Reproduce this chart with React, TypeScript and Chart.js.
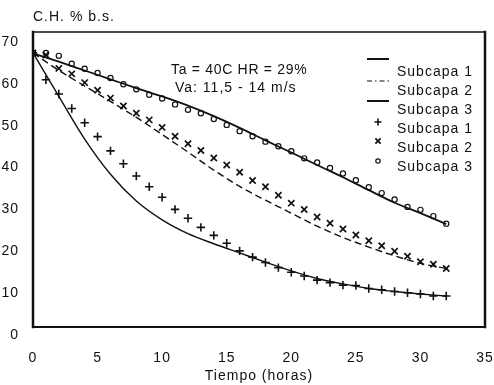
import React, { useEffect, useRef } from 'react';
import { Chart, registerables } from 'chart.js';

Chart.register(...registerables);

// ---- data ----
const hours = [0, 1, 2, 3, 4, 5, 6, 7, 8, 9, 10, 11, 12, 13, 14, 15, 16, 17, 18, 19, 20, 21, 22, 23, 24, 25, 26, 27, 28, 29, 30, 31, 32];
const subcapa1Measured = [67.4, 61.0, 57.6, 54.1, 50.7, 47.4, 44.0, 40.9, 38.0, 35.4, 32.9, 30.0, 27.9, 25.7, 23.8, 21.9, 20.1, 18.6, 17.3, 16.1, 15.0, 14.1, 13.1, 12.5, 11.9, 11.8, 11.1, 10.8, 10.4, 10.1, 9.8, 9.3, 9.3];
const subcapa2Measured = [67.4, 66.9, 63.7, 62.4, 60.3, 58.5, 56.6, 54.7, 53.0, 51.4, 49.6, 47.5, 45.7, 44.1, 42.3, 40.6, 38.9, 36.9, 35.4, 33.4, 31.5, 30.0, 28.2, 26.7, 25.3, 23.9, 22.5, 21.3, 20.0, 18.8, 17.5, 16.9, 15.9];
const subcapa3Measured = [67.4, 67.4, 66.7, 64.8, 63.6, 62.6, 61.4, 59.9, 58.7, 57.4, 56.5, 55.1, 53.8, 53.0, 51.6, 50.2, 48.7, 47.5, 46.2, 45.1, 43.9, 42.2, 41.2, 39.9, 38.6, 37.0, 35.3, 33.9, 32.4, 30.6, 29.9, 28.4, 26.6];

const modelHours = [0, 2, 4, 6, 8, 10, 12, 14, 16, 18, 20, 22, 24, 26, 28, 30, 32];
const subcapa1Model = [67.4, 57.0, 46.8, 38.4, 32.0, 27.5, 24.2, 21.8, 19.6, 17.4, 15.3, 13.5, 12.2, 11.1, 10.4, 9.8, 9.3];
const subcapa2Model = [67.4, 63.2, 59.5, 55.8, 52.0, 47.9, 43.7, 39.4, 35.5, 32.2, 29.1, 26.0, 23.3, 21.0, 18.9, 17.1, 15.9];
const subcapa3Model = [67.3, 65.3, 63.2, 61.1, 59.0, 57.0, 54.8, 52.3, 49.5, 46.5, 43.6, 40.6, 37.7, 34.6, 31.6, 29.1, 26.5];

const xTicks = [0, 5, 10, 15, 20, 25, 30, 35];
const yTicks = [0, 10, 20, 30, 40, 50, 60, 70];
const seriesNames = ['Subcapa 1', 'Subcapa 2', 'Subcapa 3'];
const yAxisLabel = 'C.H. % b.s.';
const xAxisLabel = 'Tiempo (horas)';
const noteLines = ['Ta = 40C HR = 29%', 'Va: 11,5 - 14 m/s'];

const INK = '#111';
const FONT = "'Liberation Sans', Arial, sans-serif";

const toPts = (xs: number[], ys: number[]) => xs.map((x, i) => ({ x, y: ys[i] }));

function drawMarker(ctx: CanvasRenderingContext2D, style: string, x: number, y: number, r: number) {
  ctx.beginPath();
  if (style === 'cross') {
    ctx.moveTo(x - r, y); ctx.lineTo(x + r, y);
    ctx.moveTo(x, y - r); ctx.lineTo(x, y + r);
    ctx.stroke();
  } else if (style === 'crossRot') {
    const d = r * 0.75;
    ctx.moveTo(x - d, y - d); ctx.lineTo(x + d, y + d);
    ctx.moveTo(x + d, y - d); ctx.lineTo(x - d, y + d);
    ctx.stroke();
  } else {
    ctx.arc(x, y, r, 0, Math.PI * 2);
    ctx.fillStyle = '#fff';
    ctx.fill();
    ctx.stroke();
  }
}

const framePlugin = {
  id: 'frame',
  beforeDraw(chart: any) {
    (chart.ctx as any).letterSpacing = '1px';
  },
  beforeDatasetsDraw(chart: any) {
    const { ctx, chartArea: a } = chart;
    ctx.save();
    ctx.strokeStyle = INK;
    ctx.lineCap = 'square';
    const side = (w: number, x1: number, y1: number, x2: number, y2: number) => {
      ctx.lineWidth = w; ctx.beginPath(); ctx.moveTo(x1, y1); ctx.lineTo(x2, y2); ctx.stroke();
    };
    side(2.5, a.left, a.top, a.left, a.bottom);
    side(1.5, a.left, a.top, a.right, a.top);
    side(2.5, a.right, a.top, a.right, a.bottom);
    side(2, a.left, a.bottom, a.right, a.bottom);
    ctx.restore();
  },
  afterDraw(chart: any) {
    const { ctx, chartArea: a } = chart;
    ctx.save();
    (ctx as any).letterSpacing = '1px';
    ctx.fillStyle = INK;
    ctx.font = `14px ${FONT}`;
    ctx.textBaseline = 'middle';
    ctx.textAlign = 'left';
    // y-axis caption above the frame
    ctx.fillText(yAxisLabel, a.left, 17);
    // conditions note
    (ctx as any).letterSpacing = '0.7px';
    ctx.fillText(noteLines[0], 171, 70);
    (ctx as any).letterSpacing = '1px';
    ctx.fillText(noteLines[1], 175, 88);
    // legend
    const textX = 397;
    const textY = [72, 91, 110, 129, 148, 167];
    const symY = [59, 81, 101, 122, 141, 161];
    const ds = chart.data.datasets;
    for (let i = 0; i < 6; i++) {
      ctx.fillStyle = INK;
      ctx.fillText(seriesNames[i % 3], textX, textY[i]);
      const d = ds[i];
      ctx.strokeStyle = INK;
      if (i < 3) {
        ctx.lineWidth = i === 1 ? 1.2 : 2;
        ctx.setLineDash(i === 1 ? [5, 3, 1.5, 3] : []);
        ctx.beginPath();
        ctx.moveTo(367, symY[i]);
        ctx.lineTo(389, symY[i]);
        ctx.stroke();
        ctx.setLineDash([]);
      } else {
        ctx.lineWidth = d.borderWidth;
        drawMarker(ctx, d.pointStyle, 378, symY[i], i === 5 ? 2.2 : 3.5);
      }
    }
    ctx.restore();
  },
};

export default function App() {
  const ref = useRef<HTMLCanvasElement>(null);
  useEffect(() => {
    Chart.defaults.font.family = FONT;
    Chart.defaults.font.size = 14;
    Chart.defaults.color = INK;
    const chart = new Chart(ref.current as HTMLCanvasElement, {
      type: 'scatter',
      data: {
        datasets: [
          { label: seriesNames[0], data: toPts(modelHours, subcapa1Model), showLine: true, pointRadius: 0, borderColor: INK, borderWidth: 1.4, cubicInterpolationMode: 'monotone' },
          { label: seriesNames[1], data: toPts(modelHours, subcapa2Model), showLine: true, pointRadius: 0, borderColor: INK, borderWidth: 1.4, borderDash: [7, 4], cubicInterpolationMode: 'monotone' },
          { label: seriesNames[2], data: toPts(modelHours, subcapa3Model), showLine: true, pointRadius: 0, borderColor: INK, borderWidth: 1.8, cubicInterpolationMode: 'monotone' },
          { label: seriesNames[0], data: toPts(hours, subcapa1Measured), showLine: false, pointStyle: 'cross', pointRadius: 4.2, borderColor: INK, borderWidth: 1.6 },
          { label: seriesNames[1], data: toPts(hours, subcapa2Measured), showLine: false, pointStyle: 'crossRot', pointRadius: 4.4, borderColor: INK, borderWidth: 1.7 },
          { label: seriesNames[2], data: toPts(hours, subcapa3Measured), showLine: false, pointStyle: 'circle', pointRadius: 2.6, backgroundColor: '#fff', borderColor: INK, borderWidth: 1.2 },
        ] as any,
      },
      options: {
        animation: false,
        responsive: false,
        devicePixelRatio: 1,
        events: [],
        layout: { padding: { left: 0, right: 9, top: 32, bottom: 0 } },
        plugins: { legend: { display: false }, tooltip: { enabled: false }, title: { display: false } },
        scales: {
          x: {
            type: 'linear',
            min: 0,
            max: 35,
            grid: { display: false, drawTicks: false },
            border: { display: false },
            afterBuildTicks: (s: any) => { s.ticks = xTicks.map((v) => ({ value: v })); },
            afterFit: (s: any) => { s.height = 58; s.paddingLeft = 0; s.paddingRight = 0; },
            ticks: { padding: 23, color: INK, font: { size: 14 }, maxRotation: 0, autoSkip: false },
            title: { display: true, text: xAxisLabel, color: INK, font: { size: 14 }, padding: 0 },
          },
          y: {
            type: 'linear',
            min: 1.9,
            max: 72.4,
            grid: { display: false, drawTicks: false },
            border: { display: false },
            afterBuildTicks: (s: any) => { s.ticks = yTicks.map((v) => ({ value: v })); },
            afterFit: (s: any) => { s.width = 33; s.paddingTop = 0; s.paddingBottom = 0; },
            ticks: { padding: 14, color: INK, font: { size: 14 }, autoSkip: false },
          },
        },
      } as any,
      plugins: [framePlugin],
    });
    return () => chart.destroy();
  }, []);
  return (
    <div style={{ position: 'absolute', left: 0, top: 0, width: 494, height: 385, background: '#fff' }}>
      <canvas ref={ref} width={494} height={385} style={{ display: 'block' }} />
    </div>
  );
}
